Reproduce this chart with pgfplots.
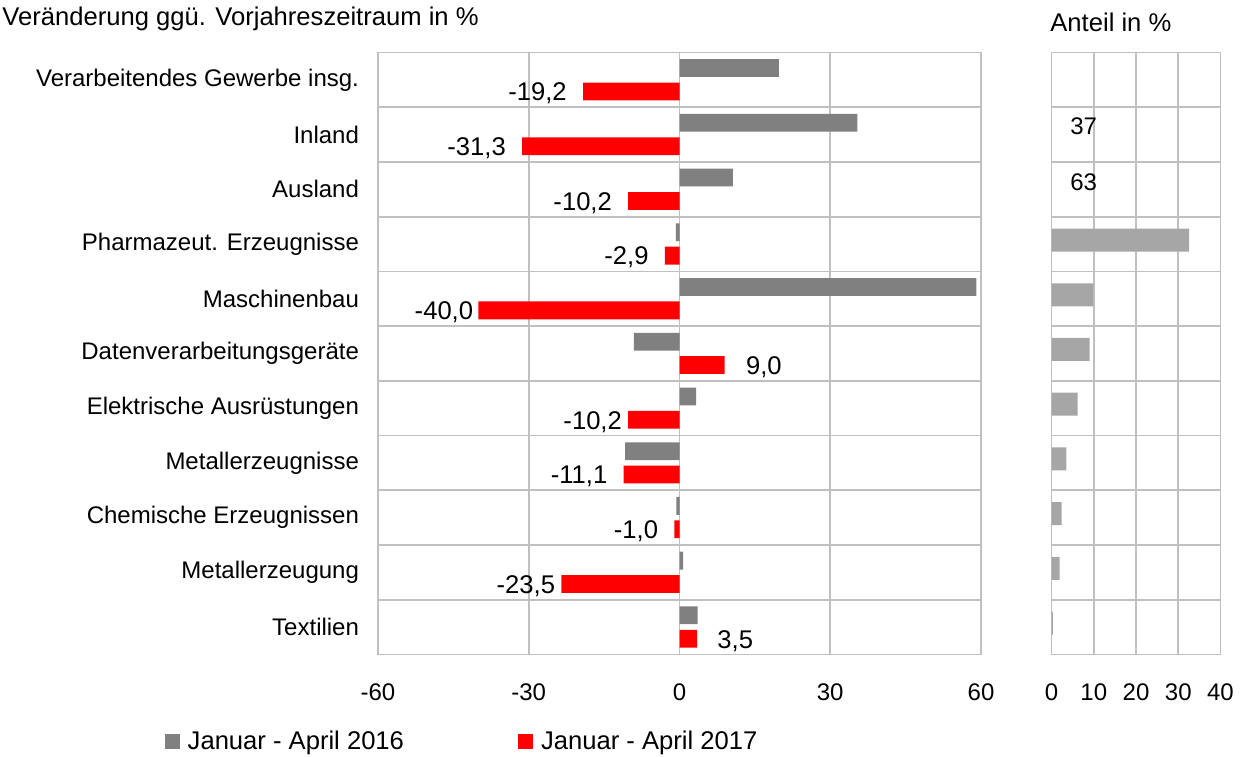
\documentclass[border=0pt]{standalone}
\usepackage{fontspec}
\setmainfont{Liberation Sans}
\usepackage{pgfplots}
\pgfplotsset{compat=1.18}
\usepackage{pgfplotstable}

\definecolor{barGray}{HTML}{808080}
\definecolor{barRed}{HTML}{FF0000}
\definecolor{shareGray}{HTML}{A6A6A6}
\definecolor{gridGray}{HTML}{C0C0C0}

% Veraenderung ggue. Vorjahreszeitraum (y=10 oben ... y=0 unten)
% dx: Verschiebung der Beschriftung (pt)
\pgfplotstableread{
y  chg16  chg17  dx
10  19.8  -19.2  0
9   35.4  -31.3  0
8   10.6  -10.2  0
7   -0.7   -2.9  0
6   59.1  -40.0  5.5
5   -9.1    9.0  2.5
4    3.3  -10.2  5
3  -10.8  -11.1  0
2   -0.6   -1.0  0
1    0.7  -23.5  5
0    3.6    3.5  2
}\veraenderung

% Anteil in %
\pgfplotstableread{
y  share
7  32.6
6   9.9
5   9.0
4   6.2
3   3.5
2   2.4
1   1.9
0   0.3
}\anteil

\newcommand{\lbl}{\fontsize{12}{14}\selectfont}
\newcommand{\lblbig}{\fontsize{12.8}{15}\selectfont}

\pgfplotsset{
  panel/.style={
    scale only axis, height=301pt,
    ymin=-0.5, ymax=10.5, ytick={0,...,10},
    minor ytick={0.5,1.5,...,9.5},
    yminorgrids=true, xmajorgrids=true, ymajorgrids=false,
    grid style={gridGray, line width=0.9pt},
    minor grid style={gridGray, line width=0.9pt},
    axis line style={gridGray, line width=0.9pt},
    major tick length=0pt, minor tick length=0pt,
    /pgf/number format/assume math mode=true,
    tick label style={font=\lbl},
    xticklabel style={yshift=-11pt},
    xbar,
  },
}

\begin{document}
\begin{tikzpicture}
\path[use as bounding box] (0,0) rectangle (624.5pt,378pt);

\node[anchor=base west, inner sep=0pt, font=\lblbig] at (1pt,365pt) {Veränderung ggü. Vorjahreszeitraum in \%};
\node[anchor=base west, inner sep=0pt, font=\lblbig] at (525pt,362pt) {Anteil in \%};

\begin{axis}[panel,
  at={(189pt,50.75pt)}, anchor=south west, width=301.5pt,
  xmin=-60, xmax=60, xtick={-60,-30,0,30,60},
  bar width=8.9pt,
  yticklabels={Textilien, Metallerzeugung, Chemische Erzeugnissen,
    Metallerzeugnisse, Elektrische Ausrüstungen, Datenverarbeitungsgeräte,
    Maschinenbau, Pharmazeut. Erzeugnisse, Ausland, Inland,
    Verarbeitendes Gewerbe insg.},
  yticklabel style={xshift=-6pt},
  legend columns=2,
  legend style={at={(0.141,-0.145)}, anchor=center, draw=none, font=\lblbig,
    /tikz/every even column/.append style={column sep=55pt}},
  legend image code/.code={\fill[#1] (0pt,-3.5pt) rectangle (7.5pt,4pt); \path (9.5pt,0pt);},
]
\addplot[fill=barGray, draw=none, bar shift=5.9pt] table[x=chg16, y=y]{\veraenderung};
\addlegendentry{Januar - April 2016}
\addplot[fill=barRed, draw=none, bar shift=-5.8pt,
  point meta=x,
  visualization depends on={\thisrow{dx} \as \lblshift},
  nodes near coords={\pgfmathprintnumber[fixed,fixed zerofill,precision=1,use comma,assume math mode=true]{\pgfplotspointmeta}},
  nodes near coords align=horizontal,
  every node near coord/.append style={font=\lblbig, inner xsep=8pt, yshift=-1pt, xshift=\lblshift pt, text=black}]
  table[x=chg17, y=y]{\veraenderung};
\addlegendentry{Januar - April 2017}
\end{axis}

\begin{axis}[panel,
  at={(525.75pt,50.75pt)}, anchor=south west, width=84.5pt,
  xmin=0, xmax=40, xtick={0,10,...,40},
  yticklabels={},
  bar width=11.5pt,
]
\addplot[fill=shareGray, draw=none, bar shift=2pt] table[x=share, y=y]{\anteil};
\node[font=\lbl, yshift=4pt] at (axis cs:7.6,9) {37};
\node[font=\lbl, yshift=3.5pt] at (axis cs:7.6,8) {63};
\end{axis}
\end{tikzpicture}
\end{document}
